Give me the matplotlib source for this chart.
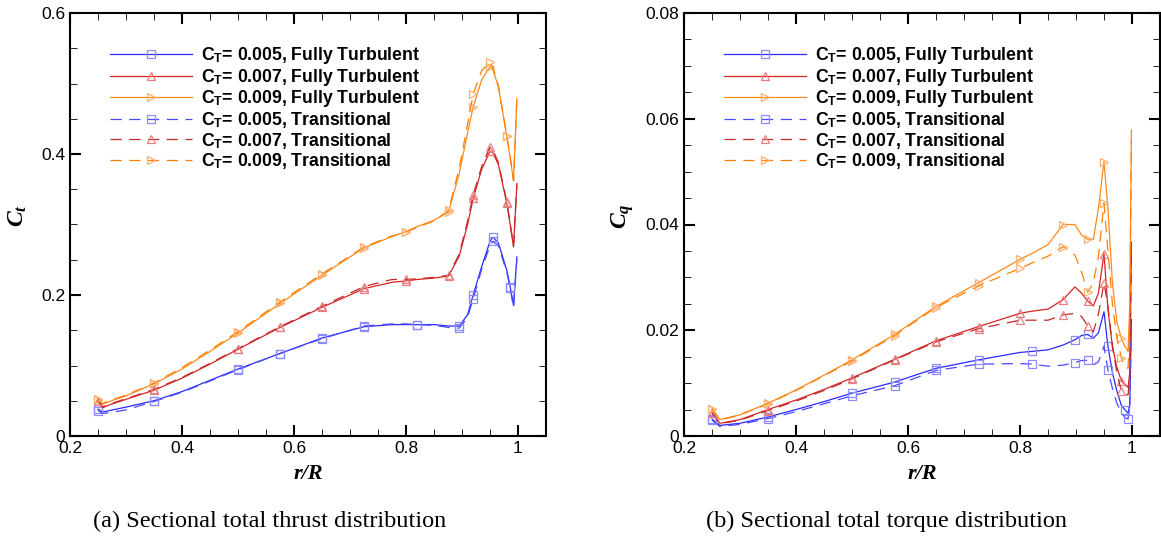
import numpy as np
import matplotlib
matplotlib.use('Agg')
from matplotlib import pyplot as plt
from matplotlib.ticker import MultipleLocator

plt.rcParams['font.family'] = ['Liberation Sans', 'DejaVu Sans']
plt.rcParams['mathtext.fontset'] = 'custom'
plt.rcParams['mathtext.rm'] = 'Liberation Sans:bold'
plt.rcParams['mathtext.bf'] = 'Liberation Sans:bold'
plt.rcParams['mathtext.it'] = 'Liberation Serif:italic:bold'

# radial stations, thrust panel
r_ct = [0.25, 0.258, 0.27, 0.30, 0.35, 0.40, 0.45, 0.50, 0.575, 0.65, 0.725, 0.775, 0.80,
        0.82, 0.85, 0.876, 0.895, 0.91, 0.92, 0.935, 0.95, 0.955, 0.965, 0.98, 0.986, 0.992, 0.998]

ct_005_ft = [0.038, 0.034, 0.036, 0.041, 0.050, 0.063, 0.079, 0.095, 0.117, 0.139, 0.155, 0.158, 0.158,
             0.158, 0.158, 0.156, 0.156, 0.172, 0.200, 0.240, 0.276, 0.282, 0.274, 0.235, 0.212, 0.185, 0.254]
ct_007_ft = [0.049, 0.040, 0.044, 0.052, 0.065, 0.082, 0.102, 0.123, 0.154, 0.1825, 0.209, 0.218, 0.220,
             0.222, 0.224, 0.227, 0.255, 0.300, 0.337, 0.378, 0.404, 0.402, 0.385, 0.330, 0.300, 0.268, 0.358]
ct_009_ft = [0.051, 0.045, 0.049, 0.057, 0.074, 0.095, 0.120, 0.146, 0.188, 0.228, 0.267, 0.283, 0.290,
             0.297, 0.306, 0.318, 0.372, 0.430, 0.467, 0.505, 0.524, 0.520, 0.495, 0.425, 0.395, 0.362, 0.479]
ct_005_tr = [0.036, 0.032, 0.033, 0.037, 0.049, 0.062, 0.078, 0.094, 0.117, 0.138, 0.156, 0.159, 0.159,
             0.158, 0.157, 0.154, 0.153, 0.168, 0.195, 0.236, 0.270, 0.276, 0.270, 0.232, 0.210, 0.182, 0.250]
ct_007_tr = [0.050, 0.041, 0.045, 0.053, 0.066, 0.083, 0.103, 0.124, 0.155, 0.184, 0.212, 0.222, 0.222,
             0.223, 0.225, 0.228, 0.258, 0.305, 0.342, 0.382, 0.410, 0.406, 0.388, 0.332, 0.302, 0.270, 0.356]
ct_009_tr = [0.052, 0.046, 0.050, 0.058, 0.075, 0.097, 0.122, 0.148, 0.190, 0.230, 0.268, 0.284, 0.289,
             0.296, 0.305, 0.320, 0.380, 0.442, 0.485, 0.518, 0.530, 0.524, 0.497, 0.426, 0.396, 0.362, 0.477]

# radial stations, torque panel
r_cq = [0.25, 0.264, 0.30, 0.35, 0.40, 0.45, 0.50, 0.576, 0.65, 0.726, 0.80, 0.821, 0.85, 0.877,
        0.898, 0.91, 0.921, 0.931, 0.94, 0.95, 0.957, 0.965, 0.973, 0.981, 0.987, 0.993, 0.996, 0.999]

cq_005_ft = [0.0032, 0.0020, 0.0024, 0.0036, 0.0050, 0.0065, 0.0081, 0.0102, 0.0128, 0.0144, 0.0158, 0.0160,
             0.0163, 0.0172, 0.0182, 0.0190, 0.0192, 0.0185, 0.0195, 0.0235, 0.0170, 0.0120, 0.0085, 0.0058,
             0.0050, 0.0043, 0.0060, 0.0220]
cq_007_ft = [0.0044, 0.0024, 0.0031, 0.0050, 0.0068, 0.0088, 0.0110, 0.0145, 0.0180, 0.0207, 0.0232, 0.0236,
             0.0240, 0.0258, 0.0282, 0.0270, 0.0255, 0.0246, 0.0270, 0.0345, 0.0240, 0.0170, 0.0130, 0.0104,
             0.0098, 0.0092, 0.0120, 0.0367]
cq_009_ft = [0.0051, 0.0031, 0.0040, 0.0062, 0.0087, 0.0115, 0.0144, 0.0192, 0.0245, 0.0290, 0.0334, 0.0345,
             0.0362, 0.0400, 0.0400, 0.0380, 0.0372, 0.0372, 0.0430, 0.0519, 0.0430, 0.0290, 0.0215, 0.0185,
             0.0170, 0.0160, 0.0250, 0.0579]
cq_005_tr = [0.0030, 0.0018, 0.0022, 0.0033, 0.0046, 0.0061, 0.0076, 0.0095, 0.0124, 0.0136, 0.0137, 0.0136,
             0.0132, 0.0134, 0.0139, 0.0143, 0.0143, 0.0135, 0.0140, 0.0170, 0.0125, 0.0090, 0.0062, 0.0045,
             0.0035, 0.0032, 0.0060, 0.0220]
cq_007_tr = [0.0044, 0.0023, 0.0030, 0.0048, 0.0066, 0.0086, 0.0108, 0.0144, 0.0178, 0.0203, 0.0219, 0.0219,
             0.0219, 0.0229, 0.0232, 0.0226, 0.0208, 0.0197, 0.0230, 0.0290, 0.0245, 0.0170, 0.0120, 0.0085,
             0.0078, 0.0078, 0.0110, 0.0360]
cq_009_tr = [0.0052, 0.0030, 0.0040, 0.0061, 0.0086, 0.0114, 0.0142, 0.0190, 0.0243, 0.0284, 0.0317, 0.0327,
             0.0340, 0.0358, 0.0342, 0.0310, 0.0272, 0.0290, 0.0340, 0.0440, 0.0350, 0.0250, 0.0185, 0.0148,
             0.0132, 0.0128, 0.0220, 0.0560]

labels = ['C$_\\mathregular{T}$= 0.005, Fully Turbulent', 'C$_\\mathregular{T}$= 0.007, Fully Turbulent',
          'C$_\\mathregular{T}$= 0.009, Fully Turbulent', 'C$_\\mathregular{T}$= 0.005, Transitional',
          'C$_\\mathregular{T}$= 0.007, Transitional', 'C$_\\mathregular{T}$= 0.009, Transitional']

line_colors = ['#2a2aff', '#d62424', '#ff8a1c', '#4a4aff', '#c42a2a', '#ff8000']
marker_colors = ['#8c8cff', '#ec7c7c', '#ffb070', '#8c8cff', '#e88080', '#ffb070']
markers = ['s', '^', '>', 's', '^', '>']
styles = ['-', '-', '-', (0, (9, 6)), (0, (9, 6)), (0, (9, 6))]

marks_ct = [[0, 4, 7, 8, 9, 10, 13, 16, 18, 21, 24],
            [0, 4, 7, 8, 9, 10, 12, 15, 18, 20, 23],
            [0, 4, 7, 8, 9, 10, 12, 15, 18, 20, 23]] * 2
marks_cq = [[0, 3, 6, 7, 8, 9, 11, 14, 16, 20, 24],
            [0, 3, 6, 7, 8, 9, 10, 13, 16, 19, 23],
            [0, 3, 6, 7, 8, 9, 10, 13, 16, 19, 23],
            [0, 3, 6, 7, 8, 9, 11, 14, 16, 20, 25],
            [0, 3, 6, 7, 8, 9, 10, 13, 16, 19, 23],
            [0, 3, 6, 7, 8, 9, 10, 13, 16, 19, 23]]

ct_series = [ct_005_ft, ct_007_ft, ct_009_ft, ct_005_tr, ct_007_tr, ct_009_tr]
cq_series = [cq_005_ft, cq_007_ft, cq_009_ft, cq_005_tr, cq_007_tr, cq_009_tr]

fig = plt.figure(figsize=(11.61, 5.4), dpi=100)
ax1 = fig.add_axes([70 / 1161, 104 / 540, 476 / 1161, 423 / 540])
ax2 = fig.add_axes([684 / 1161, 104 / 540, 476 / 1161, 423 / 540])


def short(v, p):
    return '0' if v == 0 else f'{v:g}'


def draw(ax, r, series, marks):
    for i in range(6):
        ax.plot(r, series[i], linestyle=styles[i], color=line_colors[i], lw=0.9,
                marker=markers[i], markevery=marks[i], ms=6, mfc='none',
                mec=marker_colors[i], mew=0.9, label=labels[i])
    ax.set_xlim(0.2, 1.05)
    ax.xaxis.set_major_locator(MultipleLocator(0.2))
    ax.xaxis.set_minor_locator(MultipleLocator(0.05))
    ax.xaxis.set_major_formatter(short)
    ax.yaxis.set_major_formatter(short)
    ax.tick_params(which='both', direction='in', top=True, right=True, labelsize=12.5)
    ax.tick_params(which='major', length=8, width=1.5)
    ax.tick_params(which='minor', length=5, width=0.6)
    for s in ax.spines.values():
        s.set_linewidth(1.5)
    ax.set_xlabel('r/R', family='Liberation Serif', style='italic', weight='bold', fontsize=16, labelpad=6)
    ax.legend(loc='upper left', bbox_to_anchor=(0.07, 0.94), frameon=False, numpoints=1,
              handlelength=4.6, handletextpad=0.55, labelspacing=0.03, borderaxespad=0,
              prop={'family': 'Liberation Sans', 'weight': 'bold', 'size': 12.7})


draw(ax1, r_ct, ct_series, marks_ct)
ax1.set_ylim(0, 0.6)
ax1.yaxis.set_major_locator(MultipleLocator(0.2))
ax1.yaxis.set_minor_locator(MultipleLocator(0.05))
ax1.set_ylabel('$C_t$', fontsize=17, va='center')
ax1.yaxis.set_label_coords(-0.109, 0.52)

draw(ax2, r_cq, cq_series, marks_cq)
ax2.set_ylim(0, 0.08)
ax2.yaxis.set_major_locator(MultipleLocator(0.02))
ax2.yaxis.set_minor_locator(MultipleLocator(0.005))
ax2.set_ylabel('$C_q$', fontsize=17, va='center')
ax2.yaxis.set_label_coords(-0.128, 0.52)

fig.text(270 / 1161, 1 - 521 / 540, '(a) Sectional total thrust distribution', ha='center', va='center',
         family='Liberation Serif', fontsize=17.5)
fig.text(887 / 1161, 1 - 521 / 540, '(b) Sectional total torque distribution', ha='center', va='center',
         family='Liberation Serif', fontsize=17.5)

fig.savefig('out.png', dpi=100)
